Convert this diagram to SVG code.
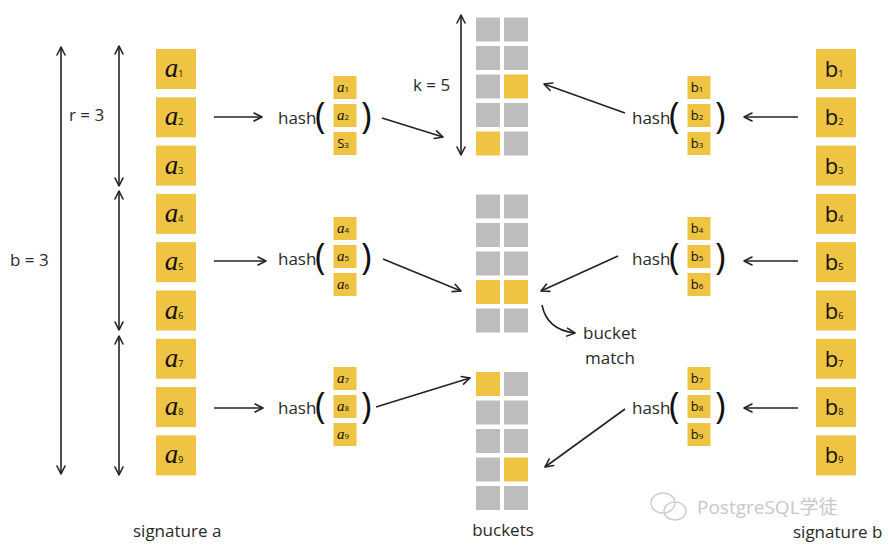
<svg xmlns="http://www.w3.org/2000/svg" width="889" height="550" viewBox="0 0 889 550">
<defs>
<marker id="ah" viewBox="0 0 10 10" refX="9" refY="5" markerWidth="10" markerHeight="10" markerUnits="userSpaceOnUse" orient="auto-start-reverse">
<path d="M1,1 L9,5 L1,9" fill="none" stroke="#222" stroke-width="1.6" stroke-linecap="round" stroke-linejoin="round"/>
</marker>
<style>
.y{fill:#EFC443}
.g{fill:#BDBDBD}
.ln{stroke:#222;stroke-width:1.6;fill:none;marker-end:url(#ah)}
.dl{stroke:#222;stroke-width:1.6;fill:none;marker-end:url(#ah);marker-start:url(#ah)}
.t{font-family:"Open Sans","DejaVu Sans",sans-serif;fill:#2a2a2a;font-size:17px}
.par{font-family:"Open Sans","DejaVu Sans",sans-serif;fill:#111;font-size:36px;font-weight:400}
.la{font-family:"Liberation Serif",serif;font-style:italic;fill:#111;font-size:27px;text-anchor:middle}
.lb{font-family:"Open Sans","DejaVu Sans",sans-serif;fill:#111;font-size:22px;text-anchor:middle}
.sa{font-family:"Liberation Serif",serif;font-style:italic;fill:#111;font-size:15px;text-anchor:middle}
.sb{font-family:"Open Sans","DejaVu Sans",sans-serif;fill:#111;font-size:13px;text-anchor:middle}
.sub{font-size:9px;font-style:normal;font-family:"Open Sans",sans-serif}
.subs{font-size:8px;font-style:normal;font-family:"Open Sans",sans-serif}
</style>
</defs>
<rect width="889" height="550" fill="#fff"/>

<g id="signature-a">
<rect class="y" x="156" y="49" width="40" height="40"/><text class="la" x="174" y="77">a<tspan class="sub">1</tspan></text>
<rect class="y" x="156" y="97.3" width="40" height="40"/><text class="la" x="174" y="125.3">a<tspan class="sub">2</tspan></text>
<rect class="y" x="156" y="145.6" width="40" height="40"/><text class="la" x="174" y="173.6">a<tspan class="sub">3</tspan></text>
<rect class="y" x="156" y="193.9" width="40" height="40"/><text class="la" x="174" y="221.9">a<tspan class="sub">4</tspan></text>
<rect class="y" x="156" y="242.2" width="40" height="40"/><text class="la" x="174" y="270.2">a<tspan class="sub">5</tspan></text>
<rect class="y" x="156" y="290.5" width="40" height="40"/><text class="la" x="174" y="318.5">a<tspan class="sub">6</tspan></text>
<rect class="y" x="156" y="338.8" width="40" height="40"/><text class="la" x="174" y="366.8">a<tspan class="sub">7</tspan></text>
<rect class="y" x="156" y="387.1" width="40" height="40"/><text class="la" x="174" y="415.1">a<tspan class="sub">8</tspan></text>
<rect class="y" x="156" y="435.4" width="40" height="40"/><text class="la" x="174" y="463.4">a<tspan class="sub">9</tspan></text>
<text class="t" x="133" y="537">signature a</text>
</g>

<g id="signature-b">
<rect class="y" x="816" y="49" width="40" height="40"/><text class="lb" x="834" y="77">b<tspan class="sub">1</tspan></text>
<rect class="y" x="816" y="97.3" width="40" height="40"/><text class="lb" x="834" y="125.3">b<tspan class="sub">2</tspan></text>
<rect class="y" x="816" y="145.6" width="40" height="40"/><text class="lb" x="834" y="173.6">b<tspan class="sub">3</tspan></text>
<rect class="y" x="816" y="193.9" width="40" height="40"/><text class="lb" x="834" y="221.9">b<tspan class="sub">4</tspan></text>
<rect class="y" x="816" y="242.2" width="40" height="40"/><text class="lb" x="834" y="270.2">b<tspan class="sub">5</tspan></text>
<rect class="y" x="816" y="290.5" width="40" height="40"/><text class="lb" x="834" y="318.5">b<tspan class="sub">6</tspan></text>
<rect class="y" x="816" y="338.8" width="40" height="40"/><text class="lb" x="834" y="366.8">b<tspan class="sub">7</tspan></text>
<rect class="y" x="816" y="387.1" width="40" height="40"/><text class="lb" x="834" y="415.1">b<tspan class="sub">8</tspan></text>
<rect class="y" x="816" y="435.4" width="40" height="40"/><text class="lb" x="834" y="463.4">b<tspan class="sub">9</tspan></text>
<text class="t" x="793" y="538">signature b</text>
</g>

<g id="dimensions">
<path class="dl" d="M61,47 V474"/>
<text class="t" x="10" y="266">b = 3</text>
<path class="dl" d="M119,46 V186"/>
<path class="dl" d="M119,191 V330"/>
<path class="dl" d="M119,336 V475"/>
<text class="t" x="69" y="121">r = 3</text>
<path class="dl" d="M461,15 V155"/>
<text class="t" x="413" y="91">k = 5</text>
</g>

<g id="hash-a1">
<text class="t" x="278" y="124">hash</text>
<text class="par" x="315" y="128">(</text>
<rect class="y" x="333.5" y="76" width="23" height="23"/><text class="sa" x="343" y="92">a<tspan class="subs">1</tspan></text>
<rect class="y" x="333.5" y="104" width="23" height="23"/><text class="sa" x="343" y="120">a<tspan class="subs">2</tspan></text>
<rect class="y" x="333.5" y="132" width="23" height="23"/><text class="sb" x="343" y="148">S<tspan class="subs">3</tspan></text>
<text class="par" x="361" y="128">)</text>
</g>
<g id="hash-a2">
<text class="t" x="278" y="265">hash</text>
<text class="par" x="315" y="269">(</text>
<rect class="y" x="333.5" y="217" width="23" height="23"/><text class="sa" x="343" y="233">a<tspan class="subs">4</tspan></text>
<rect class="y" x="333.5" y="245" width="23" height="23"/><text class="sa" x="343" y="261">a<tspan class="subs">5</tspan></text>
<rect class="y" x="333.5" y="273" width="23" height="23"/><text class="sa" x="343" y="289">a<tspan class="subs">6</tspan></text>
<text class="par" x="361" y="269">)</text>
</g>
<g id="hash-a3">
<text class="t" x="278" y="414">hash</text>
<text class="par" x="315" y="418">(</text>
<rect class="y" x="333.5" y="367" width="23" height="23"/><text class="sa" x="343" y="383">a<tspan class="subs">7</tspan></text>
<rect class="y" x="333.5" y="395" width="23" height="23"/><text class="sa" x="343" y="411">a<tspan class="subs">8</tspan></text>
<rect class="y" x="333.5" y="423" width="23" height="23"/><text class="sa" x="343" y="439">a<tspan class="subs">9</tspan></text>
<text class="par" x="361" y="418">)</text>
</g>

<g id="hash-b1">
<text class="t" x="632" y="124">hash</text>
<text class="par" x="669" y="128">(</text>
<rect class="y" x="687.5" y="76" width="23" height="23"/><text class="sb" x="697" y="92">b<tspan class="subs">1</tspan></text>
<rect class="y" x="687.5" y="104" width="23" height="23"/><text class="sb" x="697" y="120">b<tspan class="subs">2</tspan></text>
<rect class="y" x="687.5" y="132" width="23" height="23"/><text class="sb" x="697" y="148">b<tspan class="subs">3</tspan></text>
<text class="par" x="715" y="128">)</text>
</g>
<g id="hash-b2">
<text class="t" x="632" y="265">hash</text>
<text class="par" x="669" y="269">(</text>
<rect class="y" x="687.5" y="217" width="23" height="23"/><text class="sb" x="697" y="233">b<tspan class="subs">4</tspan></text>
<rect class="y" x="687.5" y="245" width="23" height="23"/><text class="sb" x="697" y="261">b<tspan class="subs">5</tspan></text>
<rect class="y" x="687.5" y="273" width="23" height="23"/><text class="sb" x="697" y="289">b<tspan class="subs">6</tspan></text>
<text class="par" x="715" y="269">)</text>
</g>
<g id="hash-b3">
<text class="t" x="632" y="414">hash</text>
<text class="par" x="669" y="418">(</text>
<rect class="y" x="687.5" y="367" width="23" height="23"/><text class="sb" x="697" y="383">b<tspan class="subs">7</tspan></text>
<rect class="y" x="687.5" y="395" width="23" height="23"/><text class="sb" x="697" y="411">b<tspan class="subs">8</tspan></text>
<rect class="y" x="687.5" y="423" width="23" height="23"/><text class="sb" x="697" y="439">b<tspan class="subs">9</tspan></text>
<text class="par" x="715" y="418">)</text>
</g>

<g id="buckets-1">
<rect class="g" x="476" y="17.5" width="24" height="24"/><rect class="g" x="504" y="17.5" width="24" height="24"/>
<rect class="g" x="476" y="46" width="24" height="24"/><rect class="g" x="504" y="46" width="24" height="24"/>
<rect class="g" x="476" y="74.5" width="24" height="24"/><rect class="y" x="504" y="74.5" width="24" height="24"/>
<rect class="g" x="476" y="103" width="24" height="24"/><rect class="g" x="504" y="103" width="24" height="24"/>
<rect class="y" x="476" y="131.5" width="24" height="24"/><rect class="g" x="504" y="131.5" width="24" height="24"/>
</g>
<g id="buckets-2">
<rect class="g" x="476" y="194.5" width="24" height="24"/><rect class="g" x="504" y="194.5" width="24" height="24"/>
<rect class="g" x="476" y="223" width="24" height="24"/><rect class="g" x="504" y="223" width="24" height="24"/>
<rect class="g" x="476" y="251.5" width="24" height="24"/><rect class="g" x="504" y="251.5" width="24" height="24"/>
<rect class="y" x="476" y="280" width="24" height="24"/><rect class="y" x="504" y="280" width="24" height="24"/>
<rect class="g" x="476" y="308.5" width="24" height="24"/><rect class="g" x="504" y="308.5" width="24" height="24"/>
</g>
<g id="buckets-3">
<rect class="y" x="476" y="372" width="24" height="24"/><rect class="g" x="504" y="372" width="24" height="24"/>
<rect class="g" x="476" y="400.5" width="24" height="24"/><rect class="g" x="504" y="400.5" width="24" height="24"/>
<rect class="g" x="476" y="429" width="24" height="24"/><rect class="g" x="504" y="429" width="24" height="24"/>
<rect class="g" x="476" y="457.5" width="24" height="24"/><rect class="y" x="504" y="457.5" width="24" height="24"/>
<rect class="g" x="476" y="486" width="24" height="24"/><rect class="g" x="504" y="486" width="24" height="24"/>
<text class="t" x="503" y="536" text-anchor="middle">buckets</text>
</g>

<g id="connectors">
<path class="ln" d="M214,117 H262"/>
<path class="ln" d="M214,261 H266"/>
<path class="ln" d="M214,408 H263"/>
<path class="ln" d="M382,118 L443,137"/>
<path class="ln" d="M383,259 L461,291"/>
<path class="ln" d="M376,407 L470,378"/>
<path class="ln" d="M798,117 H744"/>
<path class="ln" d="M798,261 H744"/>
<path class="ln" d="M798,408 H744"/>
<path class="ln" d="M625,113 L544,84"/>
<path class="ln" d="M618,256 L541,291"/>
<path class="ln" d="M625,409 L545,467"/>
<path class="ln" d="M542,305 Q547,330 575,333"/>
</g>
<g id="bucket-match-label">
<text class="t" x="583" y="339">bucket</text>
<text class="t" x="585" y="364">match</text>
</g>

<g id="watermark" fill="none" stroke="#cfcfcf" stroke-width="1.5">
<ellipse cx="663" cy="503" rx="12" ry="10"/>
<ellipse cx="675" cy="511" rx="11" ry="9"/>
<text x="697" y="514" stroke="none" fill="#c8c8c8" font-family="Open Sans,'Noto Sans CJK SC',sans-serif" font-size="19">PostgreSQL学徒</text>
</g>
</svg>
